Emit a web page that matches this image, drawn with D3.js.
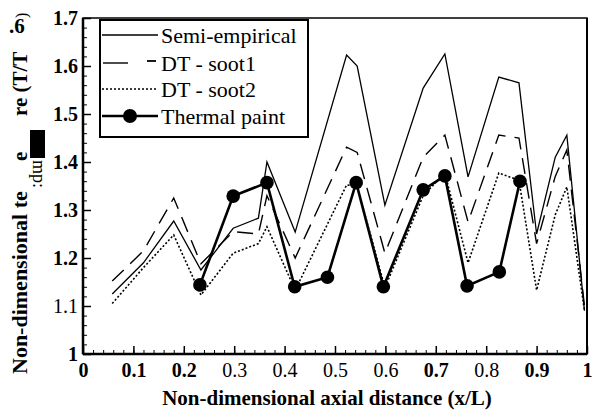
<html>
<head>
<meta charset="UTF-8">
<script src="https://d3js.org/d3.v7.min.js"></script>
</head>
<body style="margin:0">
<svg id="chart" width="595" height="417"></svg>
<script>
// valores
const xSim = [0.058, 0.12, 0.18, 0.234, 0.298, 0.348, 0.365, 0.421, 0.523, 0.544, 0.599, 0.675, 0.718, 0.764, 0.825, 0.865, 0.90, 0.937, 0.96, 0.995];
const semiEmpirical = [1.125, 1.19, 1.277, 1.175, 1.262, 1.283, 1.40, 1.254, 1.623, 1.60, 1.31, 1.554, 1.625, 1.369, 1.577, 1.565, 1.25, 1.41, 1.456, 1.09];
const dtSoot1 = [1.152, 1.215, 1.325, 1.188, 1.255, 1.25, 1.33, 1.20, 1.431, 1.42, 1.21, 1.41, 1.456, 1.275, 1.456, 1.45, 1.23, 1.37, 1.425, 1.10];
const dtSoot2 = [1.105, 1.18, 1.248, 1.123, 1.21, 1.23, 1.265, 1.133, 1.352, 1.35, 1.138, 1.33, 1.377, 1.19, 1.377, 1.362, 1.133, 1.29, 1.348, 1.09];

const xPaint = [0.232, 0.298, 0.365, 0.42, 0.485, 0.542, 0.596, 0.675, 0.718, 0.762, 0.826, 0.867];
const thermalPaint = [1.144, 1.329, 1.357, 1.14, 1.16, 1.357, 1.14, 1.342, 1.371, 1.142, 1.171, 1.36];

const xTicks = [0, 0.1, 0.2, 0.3, 0.4, 0.5, 0.6, 0.7, 0.8, 0.9, 1];
const xTickLabels = ["0", "0.1", "0.2", "0.3", "0.4", "0.5", "0.6", "0.7", "0.8", "0.9", "1"];
const xTickBold = [true, true, true, false, false, false, false, true, false, true, true];
const yTicks = [1, 1.1, 1.2, 1.3, 1.4, 1.5, 1.6, 1.7];
const yTickLabels = ["1", "1.1", "1.2", "1.3", "1.4", "1.5", "1.6", "1.7"];
const yTickBold = [true, false, true, true, true, true, true, true];

const seriesNames = ["Semi-empirical", "DT - soot1", "DT - soot2", "Thermal paint"];

const FONT = "\"Liberation Serif\"";
const x = d3.scaleLinear().domain([0, 1]).range([83, 587]);
const y = d3.scaleLinear().domain([1, 1.7]).range([354, 18]);

const svg = d3.select("#chart");

// marco
svg.append("rect")
    .attr("x", x(0)).attr("y", y(1.7))
    .attr("width", x(1) - x(0)).attr("height", y(1) - y(1.7))
    .attr("fill", "none").attr("stroke", "#000").attr("stroke-width", 1.5);
svg.append("line").attr("x1", x(0)).attr("x2", x(0)).attr("y1", y(1.7)).attr("y2", y(1))
    .attr("stroke", "#000").attr("stroke-width", 2.5);
svg.append("line").attr("x1", x(0)).attr("x2", x(1)).attr("y1", y(1)).attr("y2", y(1))
    .attr("stroke", "#000").attr("stroke-width", 2.5);
svg.append("line").attr("x1", x(1)).attr("x2", x(1)).attr("y1", y(1.7)).attr("y2", y(1))
    .attr("stroke", "#000").attr("stroke-width", 2);

// ticks menores y mayores (hacia dentro)
const minorX = d3.range(0, 1.001, 0.02);
const minorY = d3.range(1, 1.701, 0.02);

svg.append("g").attr("transform", `translate(0,${y(1)})`)
    .call(d3.axisBottom(x).tickValues(minorX).tickSize(-4).tickFormat(""))
    .call(g => g.select(".domain").remove());
const xAxis = svg.append("g").attr("transform", `translate(0,${y(1)})`)
    .call(d3.axisBottom(x).tickValues(xTicks).tickSize(-8).tickPadding(17)
        .tickFormat((d, i) => xTickLabels[i]))
    .call(g => g.select(".domain").remove());
xAxis.selectAll(".tick line").attr("stroke-width", 1.5);
xAxis.selectAll(".tick text")
    .style("font-size", "20px")
    .style("font-weight", (d, i) => xTickBold[i] ? "bold" : "normal")
    .attr("dy", "0.3em");

svg.append("g").attr("transform", `translate(${x(0)},0)`)
    .call(d3.axisLeft(y).tickValues(minorY).tickSize(-4).tickFormat(""))
    .call(g => g.select(".domain").remove());
const yAxis = svg.append("g").attr("transform", `translate(${x(0)},0)`)
    .call(d3.axisLeft(y).tickValues(yTicks).tickSize(-8).tickPadding(5)
        .tickFormat((d, i) => yTickLabels[i]))
    .call(g => g.select(".domain").remove());
yAxis.selectAll(".tick line").attr("stroke-width", 1.5);
yAxis.selectAll(".tick text")
    .style("font-size", "20px")
    .style("font-weight", (d, i) => yTickBold[i] ? "bold" : "normal");

// series
const line = d3.line().x(d => x(d[0])).y(d => y(d[1]));
const zip = (a, b) => a.map((v, i) => [v, b[i]]);

const styles = [
    { width: 1.3, dash: null },
    { width: 1.4, dash: "16,9" },
    { width: 1.6, dash: "2,2" },
    { width: 2.6, dash: null }
];

const plot = svg.append("g");
[semiEmpirical, dtSoot1, dtSoot2].forEach((s, i) => {
    plot.append("path")
        .attr("d", line(zip(xSim, s)))
        .attr("fill", "none")
        .attr("stroke", "#000")
        .attr("stroke-width", styles[i].width)
        .attr("stroke-dasharray", styles[i].dash)
        .attr("stroke-linejoin", "miter");
});

const paint = zip(xPaint, thermalPaint);
plot.append("path")
    .attr("d", line(paint))
    .attr("fill", "none")
    .attr("stroke", "#000")
    .attr("stroke-width", styles[3].width);
plot.selectAll("circle.pt")
    .data(paint)
    .enter()
    .append("circle")
    .attr("class", "pt")
    .attr("cx", d => x(d[0]))
    .attr("cy", d => y(d[1]))
    .attr("r", 6.8)
    .attr("fill", "#000");

// leyenda
const leg = svg.append("g");
leg.append("rect")
    .attr("x", 100).attr("y", 20).attr("width", 208).attr("height", 117)
    .attr("fill", "#fff").attr("stroke", "#000").attr("stroke-width", 2);
const rowsY = [35, 63, 89, 116];
seriesNames.forEach((name, i) => {
    const yy = rowsY[i];
    if (i === 1) {
        leg.append("line").attr("x1", 103).attr("x2", 128).attr("y1", yy).attr("y2", yy)
            .attr("stroke", "#000").attr("stroke-width", 1.4);
        leg.append("line").attr("x1", 147).attr("x2", 156).attr("y1", yy - 2).attr("y2", yy - 2)
            .attr("stroke", "#000").attr("stroke-width", 1.8);
    } else {
        leg.append("line").attr("x1", 102).attr("x2", 158).attr("y1", yy).attr("y2", yy)
            .attr("stroke", "#000")
            .attr("stroke-width", styles[i].width)
            .attr("stroke-dasharray", styles[i].dash);
    }
    if (i === 3) {
        leg.append("circle").attr("cx", 130).attr("cy", yy).attr("r", 7).attr("fill", "#000");
    }
    leg.append("text")
        .attr("x", 161).attr("y", yy)
        .attr("dy", "0.35em")
        .style("font-size", "22px")
        .text(name);
});

// titulos de ejes
svg.append("text")
    .attr("x", 327).attr("y", 405)
    .attr("text-anchor", "middle")
    .style("font-size", "21px")
    .style("font-weight", "bold")
    .text("Non-dimensional axial distance (x/L)");

// etiqueta del eje y (fragmentada como en el original)
const yl = svg.append("g");
yl.append("text")
    .attr("transform", "translate(27,374) rotate(-90)")
    .style("font-size", "22px").style("font-weight", "bold")
    .text("Non-dimensional te");
yl.append("text")
    .attr("transform", "translate(27,161) rotate(-90)")
    .style("font-size", "21px").style("font-weight", "bold")
    .text("e");
yl.append("rect")
    .attr("x", 30).attr("y", 130).attr("width", 15).attr("height", 28)
    .attr("fill", "#000");
yl.append("text")
    .attr("transform", "translate(33,160) rotate(90)")
    .style("font-size", "18px")
    .text("mp:");
yl.append("text")
    .attr("transform", "translate(27,116) rotate(-90)")
    .style("font-size", "21px").style("font-weight", "bold")
    .text("re (T/T");
yl.append("text")
    .attr("x", 9).attr("y", 33)
    .style("font-size", "21px").style("font-weight", "bold")
    .text(".6");
yl.append("text")
    .attr("transform", "translate(27,18) rotate(-90)")
    .style("font-size", "16px")
    .text(")");

// tipografia serif en todo el texto
svg.selectAll("text")
    .style("font-family", FONT)
    .style("fill", "#000");
</script>
</body>
</html>
